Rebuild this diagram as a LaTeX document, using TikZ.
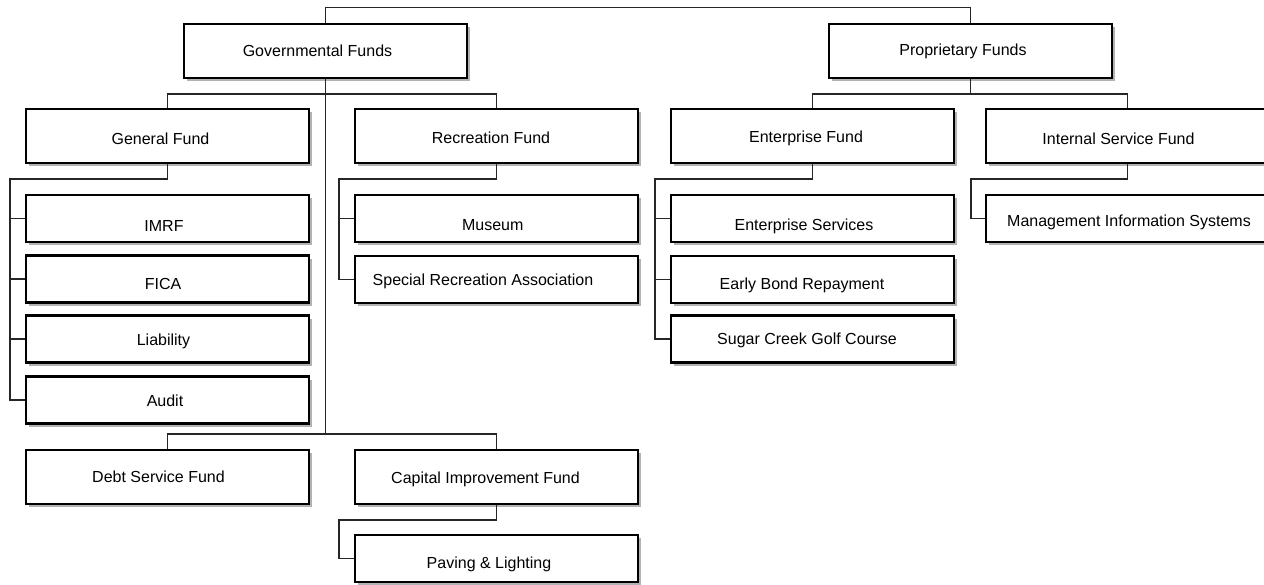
\documentclass[tikz,border=0pt]{standalone}
\usepackage{fontspec}
\setmainfont{Liberation Sans}
\usetikzlibrary{shadows}
\begin{document}
\begin{tikzpicture}[x=1pt,y=-1pt,
  box/.style={draw=black, line width=2.4pt, fill=white, minimum width=283pt, inner sep=0pt,
    drop shadow={shadow xshift=3.2pt, shadow yshift=-3.2pt, fill=black!30, opacity=1}},
  big/.style={box, minimum height=54pt},
  small/.style={box, minimum height=47pt},
  lbl/.style={font=\fontsize{16}{19}\selectfont, text height=11.5pt, text depth=0pt, inner sep=0pt},
  conn/.style={line width=1.1pt, draw=black!85}]
\useasboundingbox (0,0) rectangle (1264,584);
\clip (0,0) rectangle (1264,584);

% level 1
\node[big, label={[lbl,xshift=-8pt]center:Governmental Funds}] (gov) at (325.5,51) {};
\node[big, label={[lbl,xshift=-7.5pt,yshift=1pt]center:Proprietary Funds}] (prop) at (970.5,51) {};

% level 2
\node[big, label={[lbl,xshift=-7pt,yshift=-2.5pt]center:General Fund}] (gen) at (167.5,136) {};
\node[big, label={[lbl,xshift=-5.5pt,yshift=-2pt]center:Recreation Fund}] (rec) at (496.5,136) {};
\node[big, label={[lbl,xshift=-6.5pt,yshift=-1pt]center:Enterprise Fund}] (ent) at (812.5,136) {};
\node[big, label={[lbl,xshift=-9pt,yshift=-2.5pt]center:Internal Service Fund}] (int) at (1127.5,136) {};
\node[big, label={[lbl,xshift=-9pt]center:Debt Service Fund}] (debt) at (167.5,477) {};
\node[big, label={[lbl,xshift=-11pt,yshift=-1pt]center:Capital Improvement Fund}] (cap) at (496.5,477) {};

% general fund children
\node[small, label={[lbl,xshift=-3.5pt,yshift=-7pt]center:IMRF}] (imrf) at (167.5,218.5) {};
\node[small, label={[lbl,xshift=-4.5pt,yshift=-5pt]center:FICA}] (fica) at (167.5,279) {};
\node[small, label={[lbl,xshift=-4pt,yshift=-1pt]center:Liability}] (liab) at (167.5,339) {};
\node[small, label={[lbl,xshift=-2.5pt,yshift=-1pt]center:Audit}] (audit) at (167.5,400) {};

% recreation children
\node[small, label={[lbl,xshift=-3.7pt,yshift=-6.5pt]center:Museum}] (mus) at (496.5,218.5) {};
\node[small, label={[lbl,xshift=-13.5pt]center:Special Recreation Association}] (spec) at (496.5,279.5) {};

% capital children
\node[small, label={[lbl,xshift=-7.5pt,yshift=-4pt]center:Paving \& Lighting}] (pav) at (496.5,558.5) {};

% enterprise children
\node[small, label={[lbl,xshift=-8.5pt,yshift=-6pt]center:Enterprise Services}] (esv) at (812.5,218.5) {};
\node[small, label={[lbl,xshift=-10.5pt,yshift=-4.3pt]center:Early Bond Repayment}] (bond) at (812.5,279.5) {};
\node[small, label={[lbl,xshift=-5.5pt]center:Sugar Creek Golf Course}] (sugar) at (812.5,339) {};

% internal service children
\node[small, label={[lbl,xshift=1.5pt,yshift=-2.3pt]center:Management Information Systems}] (mis) at (1127.5,218.5) {};

% helper coordinates
\coordinate (top) at (0,7.5);
\coordinate (g2) at (325.5,94);
\coordinate (g3) at (325.5,434);
\coordinate (p2) at (970.5,94);
\coordinate (gs) at (10,179);
\coordinate (rs) at (339,179);
\coordinate (cs) at (339,520);
\coordinate (es) at (655,179);
\coordinate (is) at (971,179);

% connectors
\draw[conn] (gov.north) -- (gov.north |- top) -- (prop.north |- top) -- (prop.north);
\draw[conn] (gov.south) -- (g3);
\draw[conn] (gen.north) |- (g2) -| (rec.north);
\draw[conn] (debt.north) |- (g3) -| (cap.north);
\draw[conn] (prop.south) -- (p2);
\draw[conn] (ent.north) |- (p2) -| (int.north);

\draw[conn] (gen.south) |- (gs) |- (audit.west);
\draw[conn] (gs |- imrf.west) -- (imrf.west);
\draw[conn] (gs |- fica.west) -- (fica.west);
\draw[conn] (gs |- liab.west) -- (liab.west);

\draw[conn] (rec.south) |- (rs) |- (spec.west);
\draw[conn] (rs |- mus.west) -- (mus.west);

\draw[conn] (cap.south) |- (cs) |- (pav.west);

\draw[conn] (ent.south) |- (es) |- (sugar.west);
\draw[conn] (es |- esv.west) -- (esv.west);
\draw[conn] (es |- bond.west) -- (bond.west);

\draw[conn] (int.south) |- (is) |- (mis.west);
\end{tikzpicture}
\end{document}
